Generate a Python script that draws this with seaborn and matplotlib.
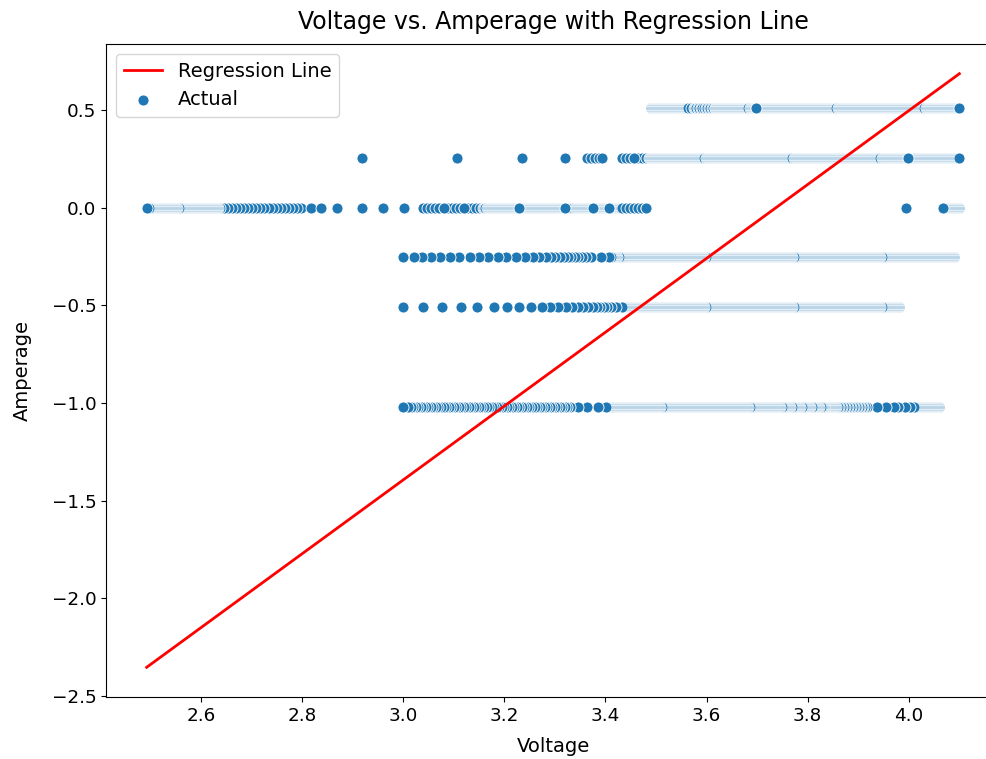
import numpy as np
import pandas as pd
import seaborn as sns
import matplotlib.pyplot as plt

# amperage levels that the readings sit on
amp_levels = [0.51, 0.255, 0.0, -0.255, -0.51, -1.02]

# voltage readings per level, in the order they were logged.
# a float is a single reading, a tuple (start, stop, step) is a continuous
# stretch of readings in V (negative step = voltage falling while logging)
seq_p051 = [(3.49, 3.563, 0.002), 3.563, 3.569, 3.575, (3.577, 3.617, 0.003),
            (3.617, 4.10, 0.002), 4.10, 3.697]
seq_p0255 = [2.919, 3.107, 3.235, 3.321, (3.363, 3.393, 0.008), 3.393,
             (3.432, 3.486, 0.008), (3.486, 4.10, 0.002), 4.10, 3.456, 3.999]
seq_zero = [(2.798, 2.636, -0.008), (2.634, 2.497, -0.002), 2.493,
            2.818, 2.838, 2.869, 2.919, 2.961, 3.002, 3.040,
            (3.040, 3.159, 0.008), (3.159, 3.432, 0.002), (3.432, 3.48, 0.008),
            3.48, 3.081, 3.121, 3.230, 3.321, 3.376, 3.408,
            3.995, (4.10, 4.068, -0.002), 4.068]
seq_m0255 = [(4.09, 3.41, -0.002), 3.407, 3.391, 3.371, 3.361, 3.353, 3.346,
             3.340, 3.333, 3.326, 3.319, 3.310, 3.301, 3.292, 3.282, 3.269,
             3.257, 3.241, 3.224, 3.204, 3.188, 3.168, 3.151, 3.133, 3.111,
             3.092, 3.074, 3.056, 3.038, 3.021, 3.000]
seq_m051 = [(3.98, 3.43, -0.002), 3.422, 3.412, 3.404, 3.397, 3.390, 3.383,
            3.375, 3.366, 3.356, 3.346, 3.334, 3.322, 3.307, 3.290, 3.274,
            3.252, 3.229, 3.206, 3.179, 3.146, 3.114, 3.077, 3.040, 3.000]
seq_m102 = [(4.06, 4.012, -0.002), 4.010, 4.002, 3.993, 3.978, 3.970, 3.955,
            3.937, 3.918, (3.913, 3.856, -0.003), (3.856, 3.832, -0.002),
            (3.832, 3.733, -0.0022), (3.733, 3.40, -0.002),
            3.386, 3.363, 3.346, (3.330, 3.008, -0.005), 3.000]

# fitted regression: Amperage = slope * Voltage + intercept
reg_slope = 1.892
reg_intercept = -7.071

sequences = [seq_p051, seq_p0255, seq_zero, seq_m0255, seq_m051, seq_m102]

volts, amps = [], []
for amp, seq in zip(amp_levels, sequences):
    for item in seq:
        if isinstance(item, tuple):
            v = list(np.arange(*item))
        else:
            v = [item]
        volts.extend(v)
        amps.extend([amp] * len(v))

df = pd.DataFrame({"Voltage": volts, "Amperage": amps})
df["Predicted"] = reg_slope * df["Voltage"] + reg_intercept

plt.rcParams["font.size"] = 14
fig = plt.figure(figsize=(9.87, 7.59), dpi=100)
ax = fig.add_axes([0.1074, 0.0817, 0.9058, 0.8603])

sns.lineplot(data=df, x="Voltage", y="Predicted", color="red", linewidth=2,
             errorbar=None, label="Regression Line", ax=ax)
sns.scatterplot(data=df, x="Voltage", y="Amperage", s=63, label="Actual", ax=ax)

ax.set_title("Voltage vs. Amperage with Regression Line", fontsize=17, pad=11)
ax.set_xlabel("Voltage", labelpad=8.5)
ax.set_ylabel("Amperage", labelpad=14)
ax.tick_params(labelsize=13.2)
ax.spines["right"].set_visible(False)
ax.legend(loc="upper left")

fig.savefig("out.png", dpi=100)
